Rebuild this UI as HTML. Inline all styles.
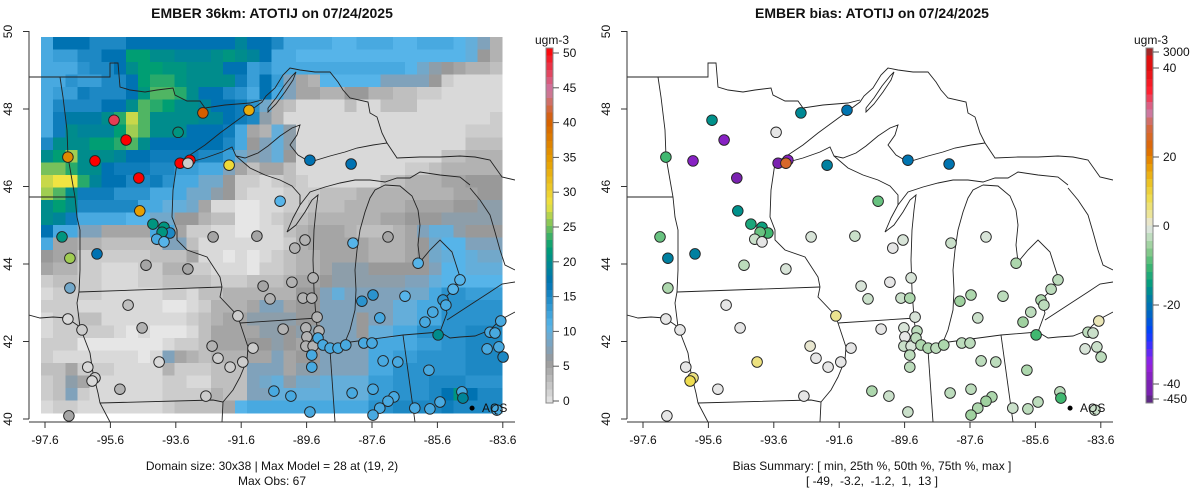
<!DOCTYPE html>
<html><head><meta charset="utf-8"><style>
html,body{margin:0;padding:0;background:#fff;}
svg{display:block;font-family:"Liberation Sans",sans-serif;}
text{white-space:pre;}
</style></head><body>
<svg id="chart" width="1200" height="502" viewBox="0 0 1200 502" xmlns="http://www.w3.org/2000/svg">
<defs>
<clipPath id="clipL"><rect x="29" y="30" width="486" height="392"/></clipPath>
<clipPath id="clipR"><rect x="627" y="30" width="486" height="392"/></clipPath>
</defs>
<g id="leftPanel"></g>
<g id="rightPanel"></g>
<g id="overlay"></g>
</svg>
<script>
// ---- data ----
const gridRows = [
"chhhfffhhhhhhhhhjhhfccccbbcccbbcccba84",
"cddffhhmmkkjjjklkjhccbbbbbbbbbbbbbba64",
"ccceffhkmmllkkkhhdecccccccccccb9765443",
"cceddffhmnnlkkkkgdhd854bbbbb8888621111",
"cddgfffhloonkhhfechc855446644332211111",
"cffffhhkonmkkjhhge94311113113331111111",
"cgiiiknrokkkkjjhgf74111111111111111112",
"cgkjjjmqokkkhhhgc54a711111111111111222",
"fkkkmmnokhhhhhhfc68a711111111111111333",
"kmqkkkjhhggggffd978a611111111111133444",
"ppnkkhgggffddcc8535531111111112234444",
"rssnjhhffgecc9962212321111113344455666",
"qokgggeeeccc99762111222333444444445566",
"kmkfffffccaa95110011223334444455556677",
"kjgccccbb99664330012334444445566677777",
"hcc885555cc52211001134555433345 8aa7666",
"c55443333388311111112455555444569bb888",
"655222222333511010123445555444569aba99",
"54422111224422111022344577766666 8bbaaa",
"23322111223333222333455677777788abbbbb",
"12222111112213344444466 8a88888 99ceeddd",
"22211111110012444588566888888aacceeeee",
"12233111111123455777766888688aacceeeee",
"12222210100013555577677888 6aacceeeefff",
"222000000012235556676558888ccccddeefff",
"211111110185434445585668888ccddeeeefff",
"335222111142223338885778888cceeeeeefff",
"2375111111221133389a799aaaaddeeefffeee",
"2382111111222243388aaaaaaaaddeeefhlhff",
"1221111111233335bcccccccccceeffffgfff"
].map(s => { s = s.replace(/ /g, ''); return s.slice(0, 38).padEnd(38, s[s.length-1]); });
const cbTicks = [0,5,10,15,20,25,30,35,40,45,50];
const biasTickLabels = ["3000","40","20","0","-20","-40","-450"];
const biasTickVals = [3000,40,20,0,-20,-40,-450];
const stLon = [-92.77,-91.36,-95.49,-95.12,-93.53,-96.90,-96.07,-93.47,-93.17,-93.23,-94.73,-91.97,-89.50,-88.24,-94.70,-97.08,-96.84,-96.01,-94.30,-93.96,-93.78,-94.02,-94.18,-93.96,-90.41,-96.84,-94.51,-93.23,-92.46,-91.12,-90.93,-90.72,-96.90,-96.47,-95.06,-94.63,-91.70,-92.49,-92.31,-91.94,-91.55,-91.24,-94.11,-96.29,-96.07,-96.16,-95.31,-92.68,-96.87,-89.65,-89.96,-88.18,-87.11,-86.19,-84.91,-85.12,-90.05,-89.40,-89.71,-89.44,-87.91,-87.57,-86.59,-85.43,-85.34,-85.74,-87.36,-85.98,-89.28,-90.32,-89.62,-89.59,-89.22,-89.62,-89.40,-89.25,-89.10,-88.88,-88.64,-88.40,-87.85,-87.60,-89.44,-89.44,-85.58,-83.99,-83.84,-83.66,-84.08,-83.72,-83.59,-87.26,-86.81,-85.86,-90.60,-90.08,-88.21,-87.57,-86.93,-87.11,-87.36,-85.52,-84.85,-84.82,-86.29,-85.83,-89.50,-87.57,-83.78];
const stLat = [47.90,47.97,47.71,47.20,47.40,46.76,46.66,46.60,46.68,46.60,46.22,46.55,46.68,46.58,45.37,44.70,44.15,44.26,45.03,44.95,44.80,44.82,44.64,44.57,45.62,43.38,43.97,43.87,44.70,44.72,43.43,43.10,42.58,42.30,42.94,42.35,42.66,41.88,41.57,41.34,41.47,41.83,41.47,41.34,41.06,40.98,40.77,40.59,40.08,44.62,44.41,44.54,44.70,44.02,43.59,43.35,43.53,43.64,43.12,43.12,43.04,43.20,43.17,43.07,42.94,42.76,42.61,42.50,42.63,42.32,42.35,42.12,42.27,41.88,41.88,42.09,41.91,41.83,41.83,41.91,41.96,41.96,41.65,41.34,42.17,42.24,42.22,42.53,41.81,41.86,41.60,41.50,41.47,41.26,40.72,40.59,40.67,40.77,40.57,40.46,40.28,40.44,40.70,40.54,40.28,40.26,40.18,40.10,40.23];
const stObs = [40,33,47,50,21,36,50,50,50,2,50,29,17,17,34,21,26,17,21,21,15,21,12,11,11,9,5,5,5,5,5,4,1,2,3,4,2,4,2,2,2,2,1,1,2,1,4,2,5,4,4,11,5,11,11,11,4,4,4,4,14,14,11,14,12,12,12,12,4,4,4,4,4,4,4,12,12,12,12,12,12,12,12,12,20,12,12,12,12,12,15,12,12,12,12,12,12,12,12,12,12,12,12,19,12,12,12,12,12];
const stBias = [-17,-20,-16,-38,0,-10,-38,-40,-38,25,-40,-18,-20,-20,-16,-8,-18,-18,-13,-14,-10,-8,-2,0,-8,-4,-3,-1,-1,-2,-1,-2,0,0,0,0,4,1,0,0,0,0,5,0,5,8,0,0,0,-1,0,-2,-1,-4,-3,-3,0,-1,-2,-4,-5,-4,-3,-4,-3,-3,-2,-5,-1,0,-1,0,-3,-2,-1,-3,-4,-4,-3,-4,-3,-3,-3,-3,-10,-3,-2,2,-1,-2,-3,-3,-3,-4,-4,-2,-3,-3,-4,-5,-4,-3,-3,-10,-2,-3,-2,-5,-2];
const aqsLon = -84.54, aqsLat = 40.28;

// ---- scales ----
const xs = (lon, off) => 45 + (lon + 97.6) * 32.7 + off;
const ys = lat => 419 - (lat - 40) * 38.75;
const NS = 'http://www.w3.org/2000/svg';
function mk(tag, attrs, parent) {
  const e = document.createElementNS(NS, tag);
  for (const k in attrs) e.setAttribute(k, attrs[k]);
  parent.appendChild(e);
  return e;
}
function hex(h){return [parseInt(h.slice(1,3),16),parseInt(h.slice(3,5),16),parseInt(h.slice(5,7),16)];}
function interp(anch, v) {
  if (v <= anch[0][0]) return anch[0][1];
  if (v >= anch[anch.length-1][0]) return anch[anch.length-1][1];
  for (let i = 0; i < anch.length-1; i++) {
    const a = anch[i], b = anch[i+1];
    if (v >= a[0] && v <= b[0]) {
      const t = (v - a[0]) / (b[0] - a[0]);
      const ca = hex(a[1]), cb = hex(b[1]);
      return 'rgb(' + ca.map((c, j) => Math.round(c + (cb[j] - c) * t)).join(',') + ')';
    }
  }
}
const obsAnch = [[0,'#e6e6e6'],[1,'#d9d9d9'],[2,'#cccccc'],[3,'#bfbfbf'],[4,'#b2b2b2'],[5,'#a5a5a5'],[6,'#999999'],[8,'#80a2bb'],[11,'#56b4e9'],[17,'#0072b2'],[22,'#009e73'],[28,'#f0e442'],[34,'#e69f00'],[40,'#d55e00'],[44,'#cc79a7'],[50,'#ff0000']];
const biasAnch = [[-450,'#5e2a84'],[-40,'#7a22b0'],[-35,'#9a20e0'],[-30,'#3a30ff'],[-27,'#0040ff'],[-22,'#0068c0'],[-18,'#0080a0'],[-15,'#009a80'],[-10,'#40b870'],[-6,'#90cc90'],[-3,'#bcdcbc'],[-1,'#d8e4d8'],[0,'#e6e6e6'],[3,'#ece6a0'],[8,'#eedc50'],[13,'#ecc020'],[18,'#e89400'],[22,'#dc6800'],[27,'#d46848'],[30,'#cc79a7'],[35,'#ff2030'],[40,'#e01010'],[3000,'#a02828']];
const obsColor = v => interp(obsAnch, v);
const biasColor = v => interp(biasAnch, v);
const CH = '0123456789abcdefghijklmnopqrstuvwxyz';

// ---- map borders (pixel geometry of base map) ----
const borders = [
[[29,77],[110,77],[110,63],[118,63],[120,87],[130,90],[145,92],[157,90],[173,88],[175,95],[187,101],[200,101],[205,108],[225,105],[250,103],[262,100]],
[[177,163],[190,155],[205,145],[220,133],[235,122],[250,111],[262,102],[266,96],[275,88],[283,75],[290,68],[300,70],[315,72],[330,72],[338,82],[343,90],[350,98],[368,102],[370,113],[377,117],[382,133],[387,143],[397,158],[420,157],[440,157],[460,156],[475,157],[490,160],[502,177],[515,180]],
[[268,108],[276,98],[284,86],[292,76],[296,72],[293,80],[285,92],[276,104],[268,112],[268,108]],
[[190,162],[205,158],[222,152],[232,147],[236,156],[245,158],[258,153],[268,146],[280,136],[292,128],[300,125],[297,135],[290,145],[298,155],[310,162],[330,156],[345,152],[357,148],[373,145],[387,143]],
[[300,205],[310,192],[325,187],[340,183],[355,180],[370,180],[385,182],[397,178],[410,178],[420,172],[440,175],[460,177],[470,185]],
[[236,156],[250,168],[265,175],[280,180],[292,186],[300,195],[300,205]],
[[300,205],[293,218],[287,232],[296,225],[305,212],[312,200],[318,195],[316,210],[314,230],[313,260],[314,290],[316,318],[318,335],[325,345],[335,350],[343,347]],
[[343,347],[350,330],[355,310],[356,290],[355,270],[357,250],[360,230],[365,212],[370,198],[375,190],[385,185]],
[[385,185],[400,186],[412,196],[418,210],[420,225],[418,245],[420,262],[430,250],[440,240],[452,252],[460,277],[453,290],[443,300],[447,313],[440,332]],
[[440,332],[450,338],[460,337],[475,336],[490,330],[500,320],[515,312]],
[[447,320],[470,305],[490,292],[502,284],[515,282]],
[[470,188],[480,200],[490,215],[495,232],[500,250],[505,265],[515,270]],
[[29,197],[75,197]],
[[60,77],[63,97],[67,130],[68,157],[72,180],[75,197],[77,217],[80,230],[80,270],[79,292]],
[[79,292],[222,287]],
[[177,163],[173,190],[172,217],[177,230],[177,240],[187,250],[207,257],[220,277],[222,287]],
[[29,315],[40,318],[53,317],[67,318],[80,327]],
[[79,292],[77,303],[80,327],[90,353],[93,373],[98,393],[100,403],[110,422]],
[[100,403],[213,400],[223,402]],
[[222,287],[220,297],[237,315],[240,323],[248,347],[247,360],[240,377],[233,390],[223,402],[222,422]],
[[240,323],[318,318]],
[[330,350],[335,422]],
[[343,343],[403,335],[440,332]],
[[403,335],[415,422]]
];

function drawPanel(g, off, isBias) {
  const clip = isBias ? 'url(#clipR)' : 'url(#clipL)';
  const cg = mk('g', {'clip-path': clip}, g);
  if (!isBias) {
    const cw = 461/38, chh = 376/30;
    const hg = mk('g', {'shape-rendering':'crispEdges'}, cg);
    
    
    gridRows.forEach((row, i) => {
      for (let j = 0; j < row.length; j++) {
        const v = CH.indexOf(row[j]);
        const r = mk('rect', {x: (41 + j*cw).toFixed(2), y: (37 + i*chh).toFixed(2), width: (cw+0.6).toFixed(2), height: (chh+0.6).toFixed(2), fill: obsColor(v)}, hg);
        
        
      }
    });
  }
  const bg = mk('g', {fill:'none', stroke:'#222', 'stroke-width':'0.9', transform:'translate(' + off + ',0)'}, cg);
  
  
  borders.forEach(pts => {
    const p = mk('polyline', {points: pts.map(q => q.join(',')).join(' ')}, bg);
    
    
  });
  const sg = mk('g', {}, g);
  
  
  stLon.forEach((lon, k) => {
    const c = mk('circle', {cx: xs(lon, off).toFixed(1), cy: ys(stLat[k]).toFixed(1), r: 5.3, fill: isBias ? biasColor(stBias[k]) : obsColor(stObs[k]), stroke:'#222', 'stroke-width':'0.9'}, sg);
    
    
  });
  const dot = mk('circle', {cx: xs(aqsLon, off), cy: ys(aqsLat), r: 2.5, fill:'#000'}, g);
  
  
  const at = mk('text', {x: xs(aqsLon, off) + 10, y: ys(aqsLat) + 4, 'font-size': 12, fill:'#111'}, g);
  at.textContent = 'AQS';
  
  

  // axes
  const ax = mk('g', {stroke:'#333', 'stroke-width':'1', fill:'none'}, g);
  
  
  mk('line', {x1: 29+off, y1: 31, x2: 29+off, y2: 419}, ax);
  mk('line', {x1: 29+off, y1: 422, x2: 515+off, y2: 422}, ax);
  for (let lat = 40; lat <= 50; lat += 2) {
    mk('line', {x1: 23+off, y1: ys(lat), x2: 29+off, y2: ys(lat)}, ax);
    const t = mk('text', {x: 12+off, y: ys(lat), 'font-size': 12, 'text-anchor':'middle', transform:'rotate(-90 ' + (12+off) + ' ' + ys(lat) + ')', fill:'#111'}, g);
    t.textContent = String(lat);
    
    
  }
  for (let i = 0; i <= 7; i++) {
    const lon = -97.6 + 2*i;
    const x = xs(lon, off);
    mk('line', {x1: x, y1: 422, x2: x, y2: 428}, ax);
    const t = mk('text', {x: x, y: 444, 'font-size': 12, 'text-anchor':'middle', fill:'#111'}, g);
    t.textContent = lon.toFixed(1);
    
    
  }
}

const L = document.getElementById('leftPanel');
const R = document.getElementById('rightPanel');
drawPanel(L, 0, false);
drawPanel(R, 598, true);

const O = document.getElementById('overlay');
function txt(x, y, s, size, bold, anchor, name) {
  const t = mk('text', {x: x, y: y, 'font-size': size, 'font-weight': bold ? 'bold' : 'normal', 'text-anchor': anchor, fill:'#111', 'xml:space':'preserve'}, O);
  t.textContent = s;
  
  
  return t;
}
txt(272, 18, 'EMBER 36km: ATOTIJ on 07/24/2025', 14, true, 'middle', 'left-title');
txt(872, 18, 'EMBER bias: ATOTIJ on 07/24/2025', 14, true, 'middle', 'right-title');
txt(272, 470, 'Domain size: 30x38 | Max Model = 28 at (19, 2)', 12, false, 'middle', 'domain-summary');
txt(272, 485, 'Max Obs: 67', 12, false, 'middle', 'max-obs');
txt(872, 470, 'Bias Summary: [ min, 25th %, 50th %, 75th %, max ]', 12, false, 'middle', 'bias-summary-header');
txt(872, 485, '[ -49,  -3.2,  -1.2,  1,  13 ]', 12, false, 'middle', 'bias-summary-values');

// colorbar left
const cbTop = 48, cbBot = 403, cbX = 546, cbW = 7;
const cbL = mk('g', {'shape-rendering':'crispEdges'}, O);


for (let v = 0; v < 50; v++) {
  const h = (cbBot - cbTop) / 50;
  mk('rect', {x: cbX, y: (cbBot - (v+1)*h).toFixed(2), width: cbW, height: (h+0.5).toFixed(2), fill: obsColor(v + 0.5)}, cbL);
}
mk('rect', {x: cbX, y: cbTop, width: cbW, height: cbBot-cbTop, fill:'none', stroke:'#888', 'stroke-width':0.6}, cbL);
cbTicks.forEach(v => {
  const y = 401 - v * (401 - 53) / 50;
  mk('line', {x1: cbX+cbW, y1: y, x2: cbX+cbW+6, y2: y, stroke:'#555'}, O);
  txt(cbX+cbW+10, y+4, String(v), 12, false, 'start', 'obs-colorbar-tick');
});
txt(cbX+6, 44, 'ugm-3', 12, false, 'middle', 'obs-colorbar-title');

// colorbar right
const bX = 1146;
const tickY = [52, 68, 157, 226, 305, 384, 399];
function biasAtY(y) {
  if (y <= tickY[0]) return 3000;
  if (y >= tickY[tickY.length-1]) return -450;
  for (let i = 0; i < tickY.length-1; i++) {
    if (y >= tickY[i] && y <= tickY[i+1]) {
      const t = (y - tickY[i]) / (tickY[i+1] - tickY[i]);
      let a = biasTickVals[i], b = biasTickVals[i+1];
      if (i === 0) a = 45;
      if (i === tickY.length-2) b = -45;
      return a + (b - a) * t;
    }
  }
}
const cbR = mk('g', {'shape-rendering':'crispEdges'}, O);


const nSeg = 46;
for (let s = 0; s < nSeg; s++) {
  const h = (cbBot - cbTop) / nSeg;
  const y0 = cbTop + s*h;
  mk('rect', {x: bX, y: y0.toFixed(2), width: cbW, height: (h+0.5).toFixed(2), fill: biasColor(biasAtY(y0 + h/2))}, cbR);
}
mk('rect', {x: bX, y: cbTop, width: cbW, height: cbBot-cbTop, fill:'none', stroke:'#888', 'stroke-width':0.6}, cbR);
biasTickLabels.forEach((s, i) => {
  const y = tickY[i];
  mk('line', {x1: bX+cbW, y1: y, x2: bX+cbW+6, y2: y, stroke:'#555'}, O);
  txt(bX+cbW+10, y+4, s, 12, false, 'start', 'bias-colorbar-tick');
});
txt(bX+5, 44, 'ugm-3', 12, false, 'middle', 'bias-colorbar-title');
</script>
</body></html>
